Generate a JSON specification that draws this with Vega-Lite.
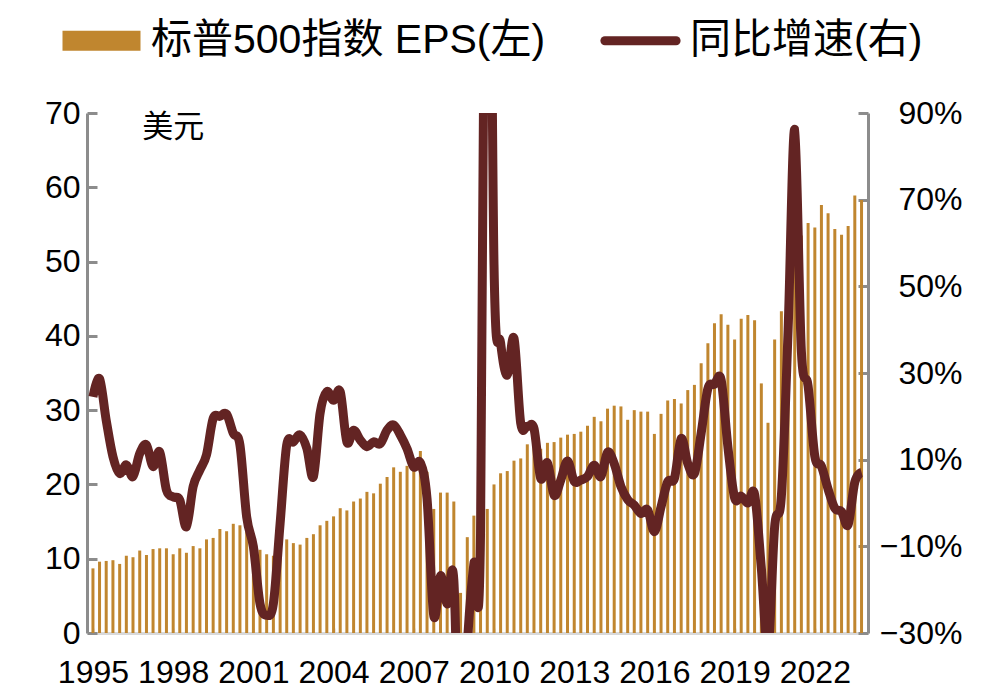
{
  "$schema": "https://vega.github.io/schema/vega-lite/v6.json",
  "width": 781,
  "height": 520,
  "autosize": "none",
  "padding": {"left": 87, "top": 113, "right": 117, "bottom": 63},
  "background": "white",
  "config": {
    "view": {"stroke": null},
    "axis": {"labelFont": "Liberation Sans", "labelFontSize": 32, "labelColor": "#000000", "grid": false, "title": null, "zindex": 1}
  },
  "data": {"values": [
    {"date": "1995-01-01", "eps": 8.7, "yoy": 24.5},
    {"date": "1995-04-01", "eps": 9.6, "yoy": 28.7},
    {"date": "1995-07-01", "eps": 9.7, "yoy": 19.1},
    {"date": "1995-10-01", "eps": 9.8, "yoy": 10.7},
    {"date": "1996-01-01", "eps": 9.3, "yoy": 6.8},
    {"date": "1996-04-01", "eps": 10.4, "yoy": 8.8},
    {"date": "1996-07-01", "eps": 10.2, "yoy": 6.1},
    {"date": "1996-10-01", "eps": 11.1, "yoy": 11.4},
    {"date": "1997-01-01", "eps": 10.5, "yoy": 13.4},
    {"date": "1997-04-01", "eps": 11.3, "yoy": 8.4},
    {"date": "1997-07-01", "eps": 11.4, "yoy": 11.8},
    {"date": "1997-10-01", "eps": 11.4, "yoy": 3.0},
    {"date": "1998-01-01", "eps": 10.6, "yoy": 1.4},
    {"date": "1998-04-01", "eps": 11.4, "yoy": 0.7},
    {"date": "1998-07-01", "eps": 10.8, "yoy": -5.5},
    {"date": "1998-10-01", "eps": 11.7, "yoy": 3.8},
    {"date": "1999-01-01", "eps": 11.4, "yoy": 7.6},
    {"date": "1999-04-01", "eps": 12.6, "yoy": 11.1},
    {"date": "1999-07-01", "eps": 12.8, "yoy": 19.5},
    {"date": "1999-10-01", "eps": 14.0, "yoy": 20.0},
    {"date": "2000-01-01", "eps": 13.7, "yoy": 20.5},
    {"date": "2000-04-01", "eps": 14.7, "yoy": 16.1},
    {"date": "2000-07-01", "eps": 14.5, "yoy": 13.4},
    {"date": "2000-10-01", "eps": 13.7, "yoy": -3.2},
    {"date": "2001-01-01", "eps": 12.3, "yoy": -10.1},
    {"date": "2001-04-01", "eps": 11.2, "yoy": -23.2},
    {"date": "2001-07-01", "eps": 10.6, "yoy": -25.9},
    {"date": "2001-10-01", "eps": 10.4, "yoy": -23.2},
    {"date": "2002-01-01", "eps": 11.5, "yoy": -4.7},
    {"date": "2002-04-01", "eps": 12.6, "yoy": 13.4},
    {"date": "2002-07-01", "eps": 12.1, "yoy": 14.1},
    {"date": "2002-10-01", "eps": 11.9, "yoy": 15.7},
    {"date": "2003-01-01", "eps": 12.8, "yoy": 12.6},
    {"date": "2003-04-01", "eps": 13.3, "yoy": 6.1},
    {"date": "2003-07-01", "eps": 14.5, "yoy": 20.7},
    {"date": "2003-10-01", "eps": 15.1, "yoy": 25.7},
    {"date": "2004-01-01", "eps": 15.7, "yoy": 23.7},
    {"date": "2004-04-01", "eps": 16.8, "yoy": 25.7},
    {"date": "2004-07-01", "eps": 16.5, "yoy": 14.1},
    {"date": "2004-10-01", "eps": 17.7, "yoy": 16.8},
    {"date": "2005-01-01", "eps": 18.1, "yoy": 14.5},
    {"date": "2005-04-01", "eps": 19.0, "yoy": 13.0},
    {"date": "2005-07-01", "eps": 18.8, "yoy": 14.1},
    {"date": "2005-10-01", "eps": 20.1, "yoy": 13.7},
    {"date": "2006-01-01", "eps": 21.0, "yoy": 16.8},
    {"date": "2006-04-01", "eps": 22.3, "yoy": 18.0},
    {"date": "2006-07-01", "eps": 21.7, "yoy": 15.7},
    {"date": "2006-10-01", "eps": 22.5, "yoy": 12.5},
    {"date": "2007-01-01", "eps": 22.9, "yoy": 8.3},
    {"date": "2007-04-01", "eps": 24.5, "yoy": 9.3},
    {"date": "2007-07-01", "eps": 21.7, "yoy": 1.0},
    {"date": "2007-10-01", "eps": 16.7, "yoy": -26.0},
    {"date": "2008-01-01", "eps": 18.9, "yoy": -16.8},
    {"date": "2008-04-01", "eps": 18.9, "yoy": -23.3},
    {"date": "2008-07-01", "eps": 17.7, "yoy": -17.8},
    {"date": "2008-10-01", "eps": 5.4, "yoy": -69},
    {"date": "2009-01-01", "eps": 12.9, "yoy": -33},
    {"date": "2009-04-01", "eps": 15.8, "yoy": -14},
    {"date": "2009-07-01", "eps": 16.3, "yoy": -7},
    {"date": "2009-10-01", "eps": 16.7, "yoy": 205},
    {"date": "2010-01-01", "eps": 20.0, "yoy": 55},
    {"date": "2010-04-01", "eps": 21.5, "yoy": 37},
    {"date": "2010-07-01", "eps": 21.8, "yoy": 29.5},
    {"date": "2010-10-01", "eps": 23.2, "yoy": 38.0},
    {"date": "2011-01-01", "eps": 23.5, "yoy": 18.4},
    {"date": "2011-04-01", "eps": 25.4, "yoy": 17.7},
    {"date": "2011-07-01", "eps": 25.5, "yoy": 17.2},
    {"date": "2011-10-01", "eps": 24.8, "yoy": 5.7},
    {"date": "2012-01-01", "eps": 25.6, "yoy": 9.3},
    {"date": "2012-04-01", "eps": 25.7, "yoy": 1.8},
    {"date": "2012-07-01", "eps": 26.3, "yoy": 5.3},
    {"date": "2012-10-01", "eps": 26.7, "yoy": 9.7},
    {"date": "2013-01-01", "eps": 26.8, "yoy": 5.0},
    {"date": "2013-04-01", "eps": 27.1, "yoy": 5.3},
    {"date": "2013-07-01", "eps": 27.9, "yoy": 6.1},
    {"date": "2013-10-01", "eps": 29.1, "yoy": 8.7},
    {"date": "2014-01-01", "eps": 28.5, "yoy": 6.1},
    {"date": "2014-04-01", "eps": 30.2, "yoy": 11.7},
    {"date": "2014-07-01", "eps": 30.6, "yoy": 9.1},
    {"date": "2014-10-01", "eps": 30.5, "yoy": 3.8},
    {"date": "2015-01-01", "eps": 28.7, "yoy": 0.8},
    {"date": "2015-04-01", "eps": 30.0, "yoy": -0.5},
    {"date": "2015-07-01", "eps": 29.8, "yoy": -2.4},
    {"date": "2015-10-01", "eps": 29.8, "yoy": -1.6},
    {"date": "2016-01-01", "eps": 26.8, "yoy": -6.6},
    {"date": "2016-04-01", "eps": 29.5, "yoy": -0.9},
    {"date": "2016-07-01", "eps": 31.3, "yoy": 4.9},
    {"date": "2016-10-01", "eps": 31.5, "yoy": 5.7},
    {"date": "2017-01-01", "eps": 30.9, "yoy": 14.9},
    {"date": "2017-04-01", "eps": 32.7, "yoy": 9.1},
    {"date": "2017-07-01", "eps": 33.4, "yoy": 6.8},
    {"date": "2017-10-01", "eps": 36.3, "yoy": 16.1},
    {"date": "2018-01-01", "eps": 39.0, "yoy": 26.4},
    {"date": "2018-04-01", "eps": 41.7, "yoy": 27.4},
    {"date": "2018-07-01", "eps": 42.9, "yoy": 28.4},
    {"date": "2018-10-01", "eps": 41.5, "yoy": 13.0},
    {"date": "2019-01-01", "eps": 39.5, "yoy": 1.2},
    {"date": "2019-04-01", "eps": 42.3, "yoy": 1.6},
    {"date": "2019-07-01", "eps": 42.8, "yoy": 0.0},
    {"date": "2019-10-01", "eps": 42.1, "yoy": 2.0},
    {"date": "2020-01-01", "eps": 33.6, "yoy": -15},
    {"date": "2020-04-01", "eps": 28.3, "yoy": -34},
    {"date": "2020-07-01", "eps": 39.5, "yoy": -5.5},
    {"date": "2020-10-01", "eps": 43.3, "yoy": 1.6},
    {"date": "2021-01-01", "eps": 47.5, "yoy": 40},
    {"date": "2021-04-01", "eps": 52.5, "yoy": 86.2},
    {"date": "2021-07-01", "eps": 53.5, "yoy": 35},
    {"date": "2021-10-01", "eps": 55.2, "yoy": 27},
    {"date": "2022-01-01", "eps": 54.6, "yoy": 10.8},
    {"date": "2022-04-01", "eps": 57.6, "yoy": 8.5},
    {"date": "2022-07-01", "eps": 56.5, "yoy": 3.2},
    {"date": "2022-10-01", "eps": 54.4, "yoy": -1.2},
    {"date": "2023-01-01", "eps": 53.6, "yoy": -2.0},
    {"date": "2023-04-01", "eps": 54.8, "yoy": -5.0},
    {"date": "2023-07-01", "eps": 58.9, "yoy": 4.8},
    {"date": "2023-10-01", "eps": 58.3, "yoy": 7.1}
  ]},
  "layer": [
    {
      "mark": {"type": "bar", "size": 3},
      "encoding": {
        "x": {
          "field": "date", "type": "temporal",
          "scale": {"type": "utc", "domain": ["1994-12-19", "2023-10-21"], "nice": false},
          "axis": {
            "values": [
              {"year": 1995, "month": 1, "date": 1, "utc": true},
              {"year": 1998, "month": 1, "date": 1, "utc": true},
              {"year": 2001, "month": 1, "date": 1, "utc": true},
              {"year": 2004, "month": 1, "date": 1, "utc": true},
              {"year": 2007, "month": 1, "date": 1, "utc": true},
              {"year": 2010, "month": 1, "date": 1, "utc": true},
              {"year": 2013, "month": 1, "date": 1, "utc": true},
              {"year": 2016, "month": 1, "date": 1, "utc": true},
              {"year": 2019, "month": 1, "date": 1, "utc": true},
              {"year": 2022, "month": 1, "date": 1, "utc": true}
            ],
            "format": "%Y",
            "labelFlush": false,
            "labelOverlap": false,
            "domainColor": "#d9d9d9",
            "domainWidth": 3,
            "tickColor": "#d9d9d9",
            "tickWidth": 2,
            "tickSize": -5,
            "labelPadding": 29
          }
        },
        "y": {
          "field": "eps", "type": "quantitative",
          "scale": {"domain": [0, 70], "nice": false},
          "axis": {
            "orient": "left",
            "values": [0, 10, 20, 30, 40, 50, 60, 70],
            "domainColor": "#8c8c8c",
            "domainWidth": 3,
            "tickColor": "#8c8c8c",
            "tickWidth": 3,
            "tickSize": -10,
            "labelPadding": 17
          }
        },
        "color": {
          "datum": "标普500指数 EPS(左)",
          "type": "nominal",
          "scale": {"domain": ["标普500指数 EPS(左)", "同比增速(右)"], "range": ["#C0862F", "#632423"]},
          "legend": {
            "orient": "none",
            "legendX": -6,
            "legendY": -93,
            "direction": "horizontal",
            "title": null,
            "labelFont": "Liberation Sans, Noto Sans CJK SC",
            "labelFontSize": 41,
            "labelColor": "#000000",
            "labelOffset": 29,
            "labelLimit": 0,
            "columnPadding": 40,
            "symbolSize": 6400,
            "encode": {
              "symbols": {
                "update": {
                  "shape": {"signal": "datum.value === '同比增速(右)' ? 'M-0.89,0L0.89,0' : 'M-0.975,-0.25L0.975,-0.25L0.975,0.25L-0.975,0.25Z'"},
                  "fill": {"signal": "datum.value === '同比增速(右)' ? 'transparent' : '#C0862F'"},
                  "stroke": {"signal": "datum.value === '同比增速(右)' ? '#632423' : 'transparent'"},
                  "strokeWidth": {"signal": "datum.value === '同比增速(右)' ? 9 : 0"},
                  "strokeCap": {"value": "round"},
                  "opacity": {"value": 1}
                }
              }
            }
          }
        }
      }
    },
    {
      "mark": {"type": "line", "interpolate": "cardinal", "strokeWidth": 9, "clip": true, "strokeJoin": "round"},
      "encoding": {
        "x": {"field": "date", "type": "temporal"},
        "y": {
          "field": "yoy", "type": "quantitative",
          "scale": {"domain": [-30, 90], "nice": false},
          "axis": {
            "orient": "right",
            "values": [-30, -10, 10, 30, 50, 70, 90],
            "labelExpr": "(datum.value < 0 ? '−' : '') + abs(datum.value) + '%'",
            "labelAlign": "right",
            "domainColor": "#8c8c8c",
            "domainWidth": 3,
            "tickColor": "#8c8c8c",
            "tickWidth": 3,
            "tickSize": -10,
            "labelPadding": 104
          }
        },
        "color": {"datum": "同比增速(右)", "type": "nominal"}
      }
    },
    {
      "data": {"values": [{"label": "美元"}]},
      "mark": {"type": "text", "font": "Noto Sans CJK SC", "fontSize": 31, "align": "center", "baseline": "middle", "color": "#000000"},
      "encoding": {
        "text": {"field": "label"},
        "x": {"datum": {"year": 1998, "month": 1, "date": 1, "utc": true}, "type": "temporal"},
        "y": {"datum": 68, "type": "quantitative", "scale": {"domain": [0, 70], "nice": false}, "axis": null}
      }
    }
  ],
  "resolve": {"scale": {"y": "independent"}}
}
